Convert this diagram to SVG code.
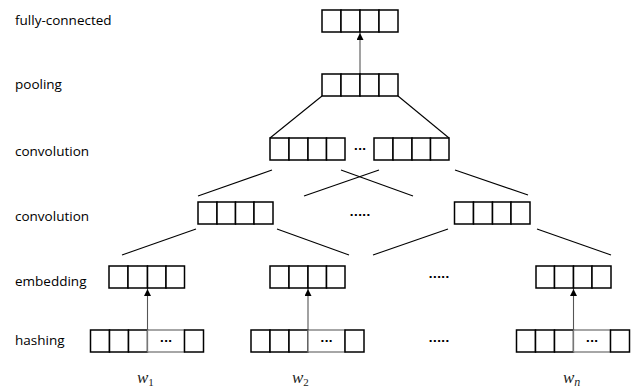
<svg xmlns="http://www.w3.org/2000/svg" width="641" height="392" viewBox="0 0 641 392">
<defs>
<style>
.lbl{font-family:"Open Sans","Liberation Sans",sans-serif;font-size:13.5px;fill:#000}
.cell{fill:#fff;stroke:#000;stroke-width:1.5}
.gcell{fill:#fff;stroke:#777;stroke-width:1.3}
.ln{stroke:#000;stroke-width:1.1;fill:none}
.arr{stroke:#555;stroke-width:1.1;fill:none;marker-end:url(#ah)}
.dots{font-family:"DejaVu Sans",sans-serif;font-size:11px;fill:#000;text-anchor:middle}
.bd{font-weight:bold}
.w{font-family:"Liberation Serif",serif;font-style:italic;font-size:17px;fill:#222}
.sub{font-family:"Liberation Serif",serif;font-size:11px;font-style:normal}
.subi{font-family:"Liberation Serif",serif;font-size:12px;font-style:italic}
</style>
<marker id="ah" viewBox="0 0 10 10" refX="10" refY="5" markerWidth="7" markerHeight="7" orient="auto" markerUnits="userSpaceOnUse">
<path d="M0,0 L10,5 L0,10 z" fill="#000"/>
</marker>
</defs>
<rect width="641" height="392" fill="#fff"/>

<g id="labels">
<text class="lbl" x="15" y="25">fully-connected</text>
<text class="lbl" x="15" y="89">pooling</text>
<text class="lbl" x="15" y="156">convolution</text>
<text class="lbl" x="15" y="221">convolution</text>
<text class="lbl" x="15" y="286">embedding</text>
<text class="lbl" x="15" y="345">hashing</text>
</g>

<g id="connectors">
<line class="arr" x1="360" y1="74" x2="360" y2="33"/>
<line class="ln" x1="322" y1="96" x2="270" y2="138"/>
<line class="ln" x1="398" y1="96" x2="449" y2="138"/>
<line class="ln" x1="272" y1="170" x2="198" y2="196"/>
<line class="ln" x1="379" y1="170" x2="304" y2="196"/>
<line class="ln" x1="341" y1="170" x2="413" y2="196"/>
<line class="ln" x1="455" y1="170" x2="528" y2="195"/>
<line class="ln" x1="196" y1="229" x2="122" y2="255"/>
<line class="ln" x1="277" y1="229" x2="349" y2="255"/>
<line class="ln" x1="448" y1="229" x2="373" y2="255"/>
<line class="ln" x1="537" y1="229" x2="611" y2="255"/>
<line class="arr" x1="147.5" y1="330" x2="147.5" y2="289"/>
<line class="arr" x1="308" y1="330" x2="308" y2="289"/>
<line class="arr" x1="573.5" y1="330" x2="573.5" y2="289"/>
</g>

<g id="fc">
<rect class="cell" x="322" y="10" width="19" height="22"/>
<rect class="cell" x="341" y="10" width="19" height="22"/>
<rect class="cell" x="360" y="10" width="19" height="22"/>
<rect class="cell" x="379" y="10" width="19" height="22"/>
</g>

<g id="pooling">
<rect class="cell" x="322" y="74" width="19" height="22"/>
<rect class="cell" x="341" y="74" width="19" height="22"/>
<rect class="cell" x="360" y="74" width="19" height="22"/>
<rect class="cell" x="379" y="74" width="19" height="22"/>
</g>

<g id="conv1-left">
<rect class="cell" x="270" y="138" width="19" height="22"/>
<rect class="cell" x="289" y="138" width="19" height="22"/>
<rect class="cell" x="308" y="138" width="18.5" height="22"/>
<rect class="cell" x="326.5" y="138" width="18.5" height="22"/>
</g>
<text class="dots bd" x="360" y="153">···</text>
<g id="conv1-right">
<rect class="cell" x="374" y="138" width="19" height="22"/>
<rect class="cell" x="393" y="138" width="19" height="22"/>
<rect class="cell" x="412" y="138" width="18.5" height="22"/>
<rect class="cell" x="430.5" y="138" width="18.5" height="22"/>
</g>

<g id="conv2-left">
<rect class="cell" x="198" y="202" width="19" height="22"/>
<rect class="cell" x="217" y="202" width="18.5" height="22"/>
<rect class="cell" x="235.5" y="202" width="18.5" height="22"/>
<rect class="cell" x="254" y="202" width="19" height="22"/>
</g>
<text class="dots bd" x="360" y="216">.....</text>
<g id="conv2-right">
<rect class="cell" x="454.5" y="202" width="19" height="22"/>
<rect class="cell" x="473.5" y="202" width="19" height="22"/>
<rect class="cell" x="492.5" y="202" width="18.5" height="22"/>
<rect class="cell" x="511" y="202" width="19" height="22"/>
</g>

<g id="emb1">
<rect class="cell" x="109" y="266" width="19" height="22"/>
<rect class="cell" x="128" y="266" width="19.5" height="22"/>
<rect class="cell" x="147.5" y="266" width="18.5" height="22"/>
<rect class="cell" x="166" y="266" width="18.5" height="22"/>
</g>
<g id="emb2">
<rect class="cell" x="270" y="266" width="19" height="22"/>
<rect class="cell" x="289" y="266" width="19" height="22"/>
<rect class="cell" x="308" y="266" width="18.5" height="22"/>
<rect class="cell" x="326.5" y="266" width="18.5" height="22"/>
</g>
<text class="dots bd" x="439" y="278">.....</text>
<g id="embn">
<rect class="cell" x="536" y="266" width="18.5" height="22"/>
<rect class="cell" x="554.5" y="266" width="19" height="22"/>
<rect class="cell" x="573.5" y="266" width="18.5" height="22"/>
<rect class="cell" x="592" y="266" width="19" height="22"/>
</g>

<g id="hash1">
<rect class="cell" x="90.5" y="330" width="19" height="22"/>
<rect class="cell" x="109.5" y="330" width="19" height="22"/>
<rect class="cell" x="128.5" y="330" width="19" height="22"/>
<rect class="gcell" x="147.5" y="330" width="37" height="22"/>
<rect class="cell" x="184.5" y="330" width="19" height="22"/>
<text class="dots bd" x="166" y="345">···</text>
</g>
<g id="hash2">
<rect class="cell" x="251" y="330" width="19" height="22"/>
<rect class="cell" x="270" y="330" width="19" height="22"/>
<rect class="cell" x="289" y="330" width="19" height="22"/>
<rect class="gcell" x="308" y="330" width="37" height="22"/>
<rect class="cell" x="345" y="330" width="19" height="22"/>
<text class="dots bd" x="326.5" y="345">···</text>
</g>
<text class="dots bd" x="439" y="342">.....</text>
<g id="hashn">
<rect class="cell" x="516.5" y="330" width="19" height="22"/>
<rect class="cell" x="535.5" y="330" width="19" height="22"/>
<rect class="cell" x="554.5" y="330" width="19" height="22"/>
<rect class="gcell" x="573.5" y="330" width="37" height="22"/>
<rect class="cell" x="610.5" y="330" width="19" height="22"/>
<text class="dots bd" x="592" y="345">···</text>
</g>

<g id="words">
<text class="w" x="137" y="383">w<tspan class="sub" dy="3">1</tspan></text>
<text class="w" x="292" y="383">w<tspan class="sub" dy="3">2</tspan></text>
<text class="w" x="563" y="383">w<tspan class="subi" dy="3">n</tspan></text>
</g>
</svg>
